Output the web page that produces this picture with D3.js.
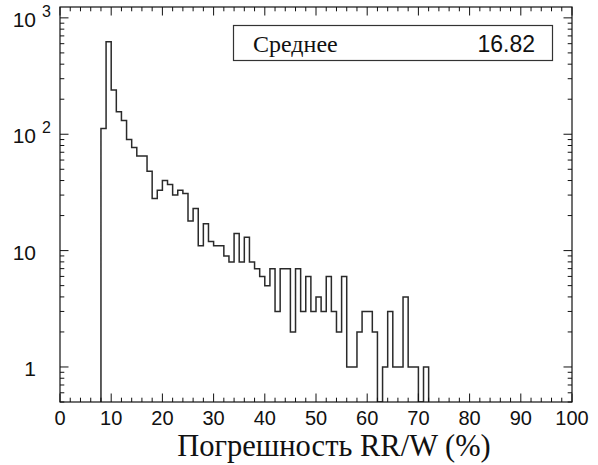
<!DOCTYPE html>
<html>
<head>
<meta charset="utf-8">
<script src="https://cdn.jsdelivr.net/npm/d3@7"></script>
<style>
  html, body { margin: 0; padding: 0; background: #fff; }
  svg { display: block; }
</style>
</head>
<body>
<svg id="chart" width="598" height="465"></svg>
<script>
// Histogram of RR/W error (%), bin width 1 %, counts on a log axis
const binLefts = [
  8, 9, 10, 11, 12, 13, 14, 15, 16, 17, 18, 19, 20, 21, 22, 23,
  24, 25, 26, 27, 28, 29, 30, 31, 32, 33, 34, 35, 36, 37, 38, 39,
  40, 41, 42, 43, 44, 45, 46, 47, 48, 49, 50, 51, 52, 53, 54, 55,
  56, 57, 58, 59, 60, 61, 62, 63, 64, 65, 66, 67, 68, 69, 70, 71
];
const counts = [
  112, 623, 240, 156, 131, 90, 77, 65, 65, 48, 28, 33, 40, 37, 30, 33,
  31, 18, 23, 11, 17, 12, 11, 11, 9, 8, 14, 8, 13, 8, 7, 6,
  5, 7, 3, 7, 7, 2, 7, 3, 6, 3, 4, 3, 6, 3, 2, 6,
  1, 1, 2, 3, 3, 2, 0, 1, 3, 1, 1, 4, 1, 1, 0, 1
];
const binWidth = 1;
const xTickValues = [0, 10, 20, 30, 40, 50, 60, 70, 80, 90, 100];
const yDecades = [1, 10, 100, 1000];
const yDecadeBase = ["1", "10", "10", "10"];
const yDecadeExp = ["", "", "2", "3"];
const meanLabel = "Среднее";
const meanValue = "16.82";
const xTitle = "Погрешность RR/W (%)";

const svg = d3.select("#chart");
const plot = { left: 60, right: 572, top: 7, bottom: 402 };

const x = d3.scaleLinear().domain([0, 100]).range([plot.left, plot.right]);
const y = d3.scaleLog().domain([0.5, 1240]).range([plot.bottom, plot.top]);

const axisColor = "#111";
const majorLen = 8.5, minorLen = 4.3;

// Minor tick positions
const xMinor = d3.range(0, 101, 2).filter(v => v % 10 !== 0);
const yMinor = [];
[0.1, 1, 10, 100, 1000].forEach(d => {
  for (let m = 2; m <= 9; m++) {
    const v = d * m;
    if (v >= 0.5 && v <= 1240) yMinor.push(v);
  }
});

const g = svg.append("g");

// Clip histogram to the plot box
svg.append("defs").append("clipPath").attr("id", "plotClip")
  .append("rect")
  .attr("x", plot.left).attr("y", plot.top)
  .attr("width", plot.right - plot.left).attr("height", plot.bottom - plot.top);

// Step outline of the histogram; empty bins fall to the floor of the axis
const floorVal = y.domain()[0];
const pts = [[binLefts[0], floorVal]];
binLefts.forEach((b, i) => {
  const v = counts[i] > 0 ? counts[i] : floorVal;
  pts.push([b, v]);
  pts.push([b + binWidth, v]);
});
pts.push([binLefts[binLefts.length - 1] + binWidth, floorVal]);

const line = d3.line().x(d => x(d[0])).y(d => y(d[1]));
g.append("path")
  .attr("clip-path", "url(#plotClip)")
  .attr("d", line(pts))
  .attr("fill", "none")
  .attr("stroke", "#2a2a2a")
  .attr("stroke-width", 1.5)
  .attr("stroke-linejoin", "miter");

// Ticks on all four sides
const ticks = g.append("g").attr("stroke", axisColor).attr("stroke-width", 1);
function xTicks(vals, len) {
  vals.forEach(v => {
    ticks.append("line").attr("x1", x(v)).attr("x2", x(v))
      .attr("y1", plot.bottom).attr("y2", plot.bottom - len);
    ticks.append("line").attr("x1", x(v)).attr("x2", x(v))
      .attr("y1", plot.top).attr("y2", plot.top + len);
  });
}
function yTicks(vals, len) {
  vals.forEach(v => {
    ticks.append("line").attr("y1", y(v)).attr("y2", y(v))
      .attr("x1", plot.left).attr("x2", plot.left + len);
    ticks.append("line").attr("y1", y(v)).attr("y2", y(v))
      .attr("x1", plot.right).attr("x2", plot.right - len);
  });
}
xTicks(xTickValues, majorLen);
xTicks(xMinor, minorLen);
yTicks(yDecades, majorLen);
yTicks(yMinor, minorLen);

// Plot frame
g.append("rect")
  .attr("x", plot.left).attr("y", plot.top)
  .attr("width", plot.right - plot.left).attr("height", plot.bottom - plot.top)
  .attr("fill", "none").attr("stroke", axisColor).attr("stroke-width", 1.2);

// X tick labels
const sans = "'Liberation Sans', Arial, Helvetica, sans-serif";
const serif = "'Liberation Serif', 'Times New Roman', serif";
g.append("g").selectAll("text").data(xTickValues).join("text")
  .attr("x", d => x(d))
  .attr("y", 425)
  .attr("text-anchor", "middle")
  .attr("font-family", sans)
  .attr("font-size", 20)
  .attr("fill", "#111")
  .text(d => d);

// Y tick labels (powers of ten)
const yl = g.append("g").attr("font-family", sans).attr("fill", "#111");
yDecades.forEach((v, i) => {
  yl.append("text")
    .attr("x", 36).attr("y", y(v) + 9)
    .attr("text-anchor", "end")
    .attr("font-size", 21)
    .text(yDecadeBase[i]);
  if (yDecadeExp[i]) {
    yl.append("text")
      .attr("x", 42).attr("y", y(v) - 1)
      .attr("font-size", 16)
      .text(yDecadeExp[i]);
  }
});

// Axis title
g.append("text")
  .attr("x", 334).attr("y", 456)
  .attr("text-anchor", "middle")
  .attr("font-family", serif)
  .attr("font-size", 30.5)
  .attr("fill", "#111")
  .text(xTitle);

// Mean value box
const box = g.append("g");
box.append("rect")
  .attr("x", 233.5).attr("y", 25.5).attr("width", 319).attr("height", 35)
  .attr("fill", "#fff").attr("stroke", "#333").attr("stroke-width", 1.2);
box.append("text")
  .attr("x", 253).attr("y", 51.5)
  .attr("font-family", serif).attr("font-size", 24).attr("fill", "#111")
  .text(meanLabel);
box.append("text")
  .attr("x", 535).attr("y", 51.5)
  .attr("text-anchor", "end")
  .attr("font-family", sans).attr("font-size", 23).attr("fill", "#111")
  .text(meanValue);
</script>
</body>
</html>
